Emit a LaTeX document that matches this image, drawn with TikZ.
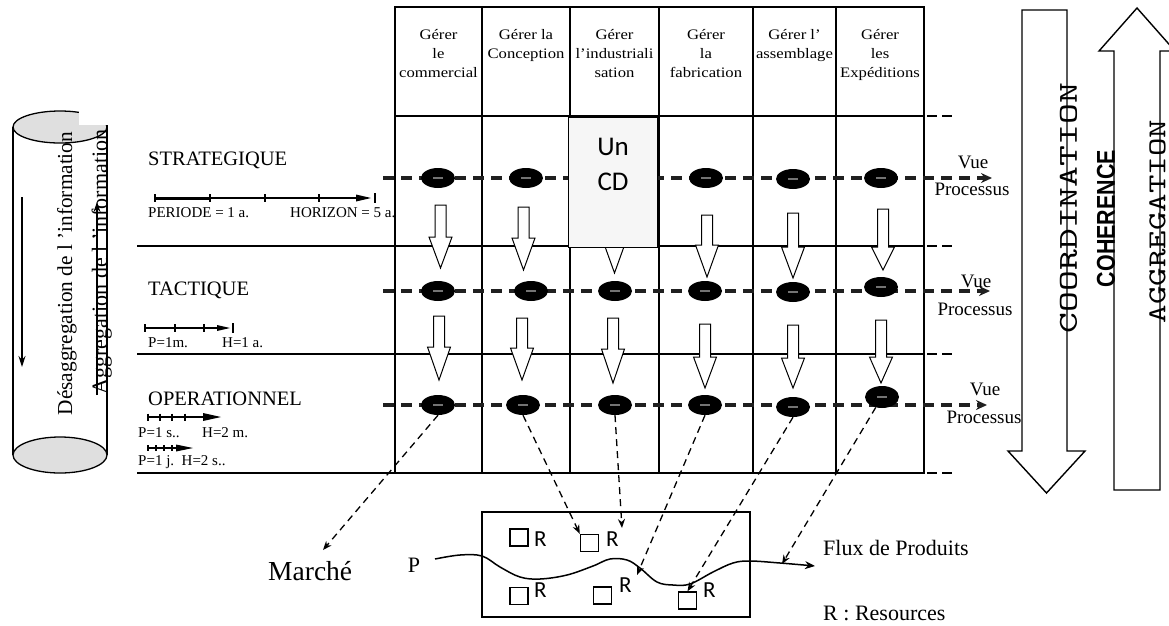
\documentclass[tikz,border=0pt]{standalone}
\usepackage{fontspec}
\usepackage{graphicx}
\setmainfont{Liberation Serif}
\newfontfamily\calfont{Carlito}
\newfontfamily\arialfnt{Liberation Sans}
\newfontfamily\hdrfnt[FakeStretch=1.15]{Liberation Serif}
\usetikzlibrary{arrows.meta,shapes.geometric}
\newcommand\hollowdn[4]{\draw[hollow] (#1-5.5,#2) -- (#1+5.5,#2) -- (#1+5.5,#3) -- (#1+11.5,#3) -- (#1,#4) -- (#1-11.5,#3) -- (#1-5.5,#3) -- cycle;}
\begin{document}
\begin{tikzpicture}[x=1pt,y=-1pt,
  tbl/.style={line width=2pt},
  colline/.style={line width=1.6pt},
  rowline/.style={line width=1.3pt},
  rdash/.style={line width=1.5pt, dash pattern=on 10pt off 5pt},
  proc/.style={draw=gray!25!black, line width=3.5pt, dash pattern=on 11pt off 7pt, -{Stealth[length=11pt,width=10pt]}},
  blob/.style={ellipse, fill=black, minimum width=34pt, minimum height=20pt, inner sep=0,
     path picture={\draw[black!55, line width=2pt] ([xshift=-5pt]path picture bounding box.center) -- ([xshift=5pt]path picture bounding box.center);}},
  hollow/.style={draw=black, fill=white, line width=1pt, line join=miter},
  link/.style={line width=1.3pt, dash pattern=on 7pt off 5pt, -{Stealth[length=9pt,width=7pt]}},
  lbl/.style={inner sep=0, anchor=base west},
  rsq/.style={draw, line width=1.4pt, minimum width=18pt, minimum height=17pt, inner sep=0},
  hdr/.style={anchor=north, inner sep=0, align=center, font=\hdrfnt\fontsize{14.5}{19}\selectfont},
  lvl/.style={inner sep=0, anchor=base west, font=\fontsize{20.5}{24}\selectfont},
  tl/.style={inner sep=0, anchor=base west, font=\fontsize{15}{18}\selectfont},
  vue/.style={inner sep=0, anchor=base, font=\fontsize{19}{22}\selectfont},
  rl/.style={inner sep=0, anchor=base west, font=\calfont\fontsize{23}{26}\selectfont},
  big/.style={draw, line width=1.4pt, line join=miter, fill=white}
]
\useasboundingbox (0,0) rectangle (1169,625);
\clip (0,0) rectangle (1169,625);

% ---------- table grid ----------
\draw[rowline] (395,116) -- (924,116);
\draw[rowline] (137,246) -- (924,246);
\draw[rowline] (137,354) -- (924,354);
\draw[tbl] (137,473) -- (924,473);
\foreach \x in {482,570,659,753,836} \draw[colline] (\x,7) -- (\x,473);
\draw[tbl] (395,7) rectangle (924,473);
\foreach \y in {116,246,354,473} \draw[rdash] (927,\y) -- (953,\y);

% ---------- header ----------
\node[hdr] (h1) at (438.5,29.5) {Gérer\\le\\commercial};
\node[hdr] (h2) at (526,29.5) {Gérer la\\Conception};
\node[hdr] (h3) at (614.5,29.5) {Gérer\\l’industriali\\sation};
\node[hdr] (h4) at (706,29.5) {Gérer\\la\\fabrication};
\node[hdr] (h5) at (794.5,29.5) {Gérer l’\\assemblage};
\node[hdr] (h6) at (880,29.5) {Gérer\\les\\Expéditions};

% ---------- process lines ----------
\coordinate (sA) at (383,178); \coordinate (sB) at (992,178);
\coordinate (tA) at (383,291); \coordinate (tB) at (990,291);
\coordinate (oA) at (383,405); \coordinate (oB) at (987,405);
\draw[proc] (sA) -- (sB);
\draw[proc] (tA) -- (tB);
\draw[proc] (oA) -- (oB);

\node[blob] (s1) at (438,178) {};
\node[blob] (s2) at (526,178) {};
\node[blob] (s3) at (615,178) {};
\node[blob] (s4) at (706,178) {};
\node[blob] (s5) at (793,179) {};
\node[blob] (s6) at (881,178) {};
\node[blob] (t1) at (438,291) {};
\node[blob] (t2) at (531,291) {};
\node[blob] (t3) at (615,291) {};
\node[blob] (t4) at (705,291) {};
\node[blob] (t5) at (793,292) {};
\node[blob] (t6) at (881,287) {};
\node[blob] (o1) at (438,405) {};
\node[blob] (o2) at (523,405) {};
\node[blob] (o3) at (615,405) {};
\node[blob] (o4) at (705,405) {};
\node[blob] (o5) at (793,407) {};
\node[blob, minimum height=22pt] (o6) at (882,397) {};

% ---------- hollow arrows ----------
\hollowdn{440.5}{205}{237}{268}
\hollowdn{523.5}{207}{238}{270}
\hollowdn{614.5}{210}{241}{273}
\hollowdn{707}{215}{245}{277}
\hollowdn{793}{213}{247}{278}
\hollowdn{883}{209}{247}{270}
\hollowdn{439}{316}{347}{380}
\hollowdn{522}{318}{348}{380}
\hollowdn{613}{318}{349}{383}
\hollowdn{705}{324}{357}{388}
\hollowdn{793}{325}{358}{388}
\hollowdn{881}{320}{357}{383}

% ---------- CD box ----------
\node[draw, fill=gray!7, line width=1pt, minimum width=89pt, minimum height=130pt, inner sep=0] (cd) at (612.5,182) {};
\node[anchor=north, inner sep=0, align=center, font=\calfont\fontsize{27}{35.5}\selectfont] (cdtext) at (613,137.6) {Un\\CD};

% ---------- bottom plant ----------
\node[draw, line width=2.5pt, minimum width=268pt, minimum height=105pt, inner sep=0] (plant) at (616,564.5) {};
\node[rsq] (sq1) at (519,537.5) {};
\node[rsq] (sq2) at (589.5,543) {};
\node[rsq] (sq3) at (519,596) {};
\node[rsq] (sq4) at (602.5,595.5) {};
\node[rsq] (sq5) at (687.5,600.5) {};
\node[rl] (r1) at (534,546) {R};
\node[rl] (r2) at (606,546) {R};
\node[rl] (r3) at (534,597) {R};
\node[rl] (r4) at (619,592) {R};
\node[rl] (r5) at (703,597) {R};

\draw[line width=1.5pt, -{Stealth[length=10pt,width=8pt]}] plot[smooth, tension=0.6] coordinates {(435,559) (460,555) (482,556) (500,567) (520,577) (540,579) (567,575) (593,566) (610,559) (627,560) (640,568) (657,582) (673,585) (690,584) (713,572) (733,563) (750,561) (780,563) (815,566)};

\node[inner sep=0, anchor=base, font=\fontsize{22}{26}\selectfont] (P) at (414,572) {P};
\node[lbl, font=\fontsize{22}{26}\selectfont] (flux) at (823,555) {Flux de Produits};
\node[lbl, font=\fontsize{22}{26}\selectfont] (res) at (823,620) {R : Resources};
\node[lbl, font=\fontsize{27.5}{30}\selectfont] (marche) at (268,580) {Marché};

% ---------- links ----------
\coordinate (mk) at (323,550);
\coordinate (e3) at (622,528);
\coordinate (e4) at (637,575);
\coordinate (e6) at (782,564);
\draw[link] (o1.south) -- (mk);
\draw[link] (o2.south) -- (sq2.north west);
\draw[link] (o3.south) -- (e3);
\draw[link] (o4.south) -- (e4);
\draw[link] (o5.south) -- (sq5.north);
\draw[link] (o6) -- (e6);

% ---------- left labels ----------
\node[lvl] (strat) at (148,165) {STRATEGIQUE};
\node[lvl] (tact) at (148,295) {TACTIQUE};
\node[lvl] (oper) at (148,405) {OPERATIONNEL};

\draw[line width=3pt] (155,198) -- (210,198);
\draw[line width=1.2pt] (210,198) -- (358,198);
\fill (356,194.5) -- (371,198) -- (356,201.5) -- cycle;
\foreach \x in {155,210,265,319} \draw[line width=1.2pt] (\x,194) -- (\x,202);
\draw[line width=1.2pt] (375,193) -- (375,203);
\node[tl] (per) at (148,217) {PERIODE = 1 a.};
\node[tl] (hor) at (290,217) {HORIZON = 5 a.};

\draw[line width=1.1pt] (145,328) -- (219,328);
\fill (217,325) -- (230,328) -- (217,331) -- cycle;
\foreach \x in {145,175,204} \draw[line width=1.1pt] (\x,324) -- (\x,332);
\draw[line width=1.1pt] (233,323) -- (233,333);
\node[tl] (p2) at (148,347) {P=1m.};
\node[tl] (h2l) at (222,347) {H=1 a.};

\draw[line width=1.3pt] (148,417) -- (205,417);
\fill (203,413) -- (221,417) -- (203,421) -- cycle;
\foreach \x in {148,160,172,185} \draw[line width=1.1pt] (\x,413.5) -- (\x,420.5);
\node[tl] (p3) at (138,437) {P=1 s..};
\node[tl] (h3l) at (202,437) {H=2 m.};

\draw[line width=1.3pt] (148,448) -- (178,448);
\fill (176,444.5) -- (193,448) -- (176,451.5) -- cycle;
\foreach \x in {148,156,164,172} \draw[line width=1.1pt] (\x,445) -- (\x,451);
\node[tl] (p4) at (138,465) {P=1 j.\ \ H=2 s..};

% ---------- cylinder ----------
\draw[line width=1.3pt] (13,127) -- (13,455);
\draw[line width=1.3pt] (107,125) -- (107,455);
\draw[line width=1.3pt, fill=gray!25] (60,455) ellipse [x radius=47pt, y radius=18pt];
\draw[line width=1.3pt, fill=gray!25] (60,127) ellipse [x radius=47pt, y radius=16pt];
\fill[white] (79,104) rectangle (111,125);
\draw[line width=1.3pt] (107,125) -- (107,140);
\node[rotate=90, anchor=base, inner sep=0, font=\fontsize{21.3}{21.3}\selectfont] (desag) at (72,273.5) {Désaggregation de l 'information};
\node[rotate=90, anchor=base, inner sep=0, font=\fontsize{22}{22}\selectfont] (aggr) at (107,262) {Aggregation de l 'information};
\coordinate (dA) at (22,197); \coordinate (dB) at (22,367);
\draw[line width=1.3pt, -{Stealth[length=11pt,width=7pt]}] (dA) -- (dB);
\coordinate (uA) at (97,395); \coordinate (uB) at (97,202);
\draw[line width=1.2pt, -{Stealth[length=10pt,width=7pt]}] (uA) -- (uB);

% ---------- Vue processus ----------
\node[vue] (v1) at (973,168) {Vue};
\node[vue] (pr1) at (972,195) {Processus};
\node[vue] (v2) at (976,287) {Vue};
\node[vue] (pr2) at (975,315) {Processus};
\node[vue] (v3) at (985,395) {Vue};
\node[vue] (pr3) at (984,423) {Processus};

% ---------- right block arrows ----------
\draw[big] (1022,10) -- (1067,10) -- (1067,451) -- (1085,451) -- (1046.5,493) -- (1008,451) -- (1022,451) -- cycle;
\draw[big] (1114,490) -- (1160,490) -- (1160,51) -- (1175,51) -- (1137,8) -- (1099,51) -- (1114,51) -- cycle;
\node[rotate=90, inner sep=0] (coord) at (1068.5,208) {\resizebox{250pt}{17pt}{\ttfamily COORDINATION}};
\node[rotate=90, inner sep=0] (coher) at (1106,218.5) {\resizebox{137pt}{18pt}{\arialfnt\bfseries COHERENCE}};
\node[rotate=90, inner sep=0] (aggreg) at (1157.5,221.5) {\resizebox{203pt}{16pt}{\ttfamily AGGREGATION}};
\end{tikzpicture}
\end{document}
